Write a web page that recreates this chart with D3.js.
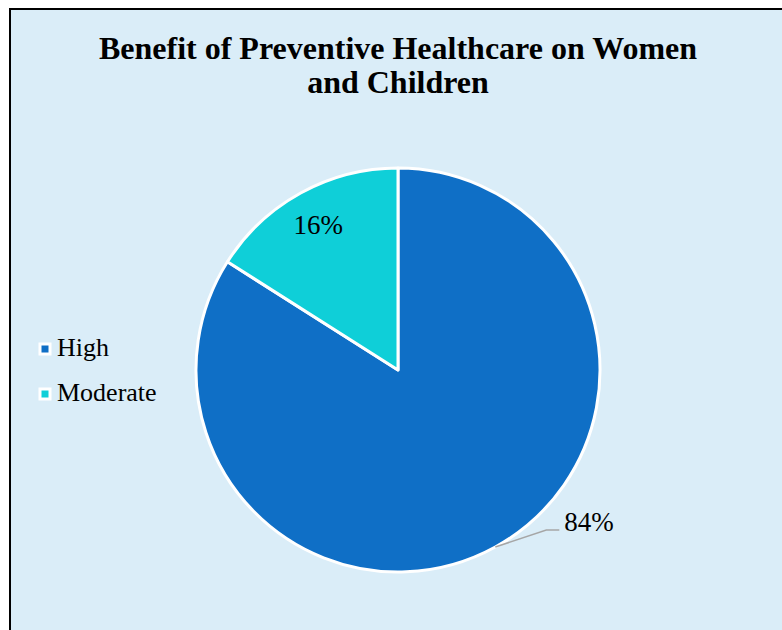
<!DOCTYPE html>
<html>
  <head>
    <meta charset="utf-8">
    <title>Benefit of Preventive Healthcare on Women and Children</title>
    <script src="https://d3js.org/d3.v7.min.js"></script>
    <style>
      body { margin: 0; background: #ffffff; }
      text { font-family: "Liberation Serif", "Times New Roman", serif; fill: #000; }
    </style>
  </head>
  <body>
    <svg id="chart" width="782" height="630"></svg>
    <script>
      // data
      var categories = ["High", "Moderate"];
      var values = [84, 16];
      var colours = ["#0f6fc6", "#0fcfd8"];
      var titleLines = ["Benefit of Preventive Healthcare on Women", "and Children"];

      var svg = d3.select("#chart");

      // frame
      svg.append("rect")
        .attr("x", 10)
        .attr("y", 9)
        .attr("width", 800)
        .attr("height", 660)
        .attr("fill", "#daedf8")
        .attr("stroke", "#000")
        .attr("stroke-width", 2);

      // title
      svg.append("g").selectAll("text")
        .data(titleLines)
        .enter().append("text")
          .attr("x", 398)
          .attr("y", function(d, i) { return 59 + i * 34; })
          .attr("text-anchor", "middle")
          .style("font-size", "32px")
          .style("font-weight", "bold")
          .text(function(d) { return d; });

      // pie
      var cx = 398, cy = 370, r = 202;
      var pie = d3.pie().sort(null).value(function(d) { return d; });
      var arcs = pie(values);
      var arc = d3.arc().innerRadius(0).outerRadius(r);
      var pieGroup = svg.append("g")
        .attr("transform", "translate(" + cx + "," + cy + ")");
      pieGroup.selectAll("path")
        .data(arcs)
        .enter().append("path")
          .attr("d", arc)
          .attr("fill", function(d, i) { return colours[i]; })
          .attr("stroke", "#fff")
          .attr("stroke-width", 3)
          .attr("stroke-linejoin", "round");

      // labels
      var total = d3.sum(values);
      function pct(d) { return Math.round(d.value / total * 100) + "%"; }
      // moderate label inside slice
      var inner = d3.arc().innerRadius(r * 0.82).outerRadius(r * 0.82);
      var modC = inner.centroid(arcs[1]);
      pieGroup.append("text")
        .attr("x", modC[0])
        .attr("y", modC[1] + 9)
        .attr("text-anchor", "middle")
        .style("font-size", "27px")
        .text(pct(arcs[1]));
      // high label outside with leader line
      var angle = (arcs[0].startAngle + arcs[0].endAngle) / 2;
      var p0 = [Math.sin(angle) * r, -Math.cos(angle) * r];
      var p1 = [p0[0] + 51, p0[1] - 17];
      var p2 = [p1[0] + 13, p1[1]];
      pieGroup.append("polyline")
        .attr("points", [p0, p1, p2].map(function(p) { return p.join(","); }).join(" "))
        .attr("fill", "none")
        .attr("stroke", "#a6a6a6")
        .attr("stroke-width", 1.5);
      pieGroup.append("text")
        .attr("x", p2[0] + 5)
        .attr("y", p2[1] + 1)
        .style("font-size", "27px")
        .text(pct(arcs[0]));

      // legend
      var legend = svg.append("g")
        .attr("transform", "translate(40, 338)");
      var items = legend.selectAll("g")
        .data(categories)
        .enter().append("g")
          .attr("transform", function(d, i) { return "translate(0," + i * 45 + ")"; });
      items.append("rect")
        .attr("x", 0)
        .attr("y", 6)
        .attr("width", 10)
        .attr("height", 10)
        .attr("fill", function(d, i) { return colours[i]; })
        .attr("stroke", "#fff")
        .attr("stroke-width", 3);
      items.append("text")
        .attr("x", 17)
        .attr("y", 18)
        .style("font-size", "26px")
        .text(function(d) { return d; });
    </script>
  </body>
</html>
